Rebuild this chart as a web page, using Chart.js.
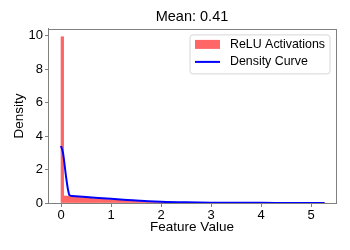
<!DOCTYPE html>
<html><head><meta charset="utf-8">
<script src="https://cdn.jsdelivr.net/npm/chart.js@4"></script>
<style>html,body{margin:0;padding:0;background:#fff}#wrap{width:350px;height:250px}</style>
</head><body><div id="wrap"><canvas id="c" width="350" height="250"></canvas></div>
<script>
const titleText = "Mean: 0.41";
const xLabel = "Feature Value";
const yLabel = "Density";
const histLabel = "ReLU Activations";
const curveLabel = "Density Curve";
const binWidth = 0.0527;
const histDensity = [
  9.95,
  0.42,0.41,0.39,0.38,0.36,0.35,0.33,0.32,0.30,0.29,0.28,0.26,0.25,0.24,0.23,0.22,0.21,0.20,0.19,
  0.18,0.17,0.16,0.15,0.15,0.14,0.13,0.12,0.12,0.11,0.10,0.10,0.09,0.08,0.08,0.07,0.07,0.06,0.06,
  0.05,0.05,0.05,0.04,0.04,0.04,0.03,0.03,0.03,0.03,0.02,0.02,0.02,0.02,0.02,0.02,0.01,0.01,0.01,
  0.01,0.01,0.01,0.01,0.01,0.01,0.01,0.01,0.01,0.01,
  0.004,0.004,0.004,0.004,0.004,0.004,0.004,0.004,0.004,0.004,0.004,0.004,
  0.002,0.002,0.002,0.002,0.002,0.002,0.002,0.002,0.002,0.002,0.002,0.002,0.002,0.002,0.002,0.002,0.002,0.002,0.002,
  0.004
];
const curveX = [0, 0.04, 0.1, 0.14, 0.17, 0.22, 0.5, 0.75, 1.0, 1.25, 1.5, 2.0, 2.5, 3.0, 3.5, 4.0, 4.5, 5.0, 5.27];
const curveY = [3.41, 3.0, 1.6, 0.8, 0.46, 0.42, 0.36, 0.30, 0.25, 0.20, 0.15, 0.08, 0.04, 0.02, 0.012, 0.008, 0.005, 0.003, 0.002];
const xTicks = [0, 1, 2, 3, 4, 5];
const yTicks = [0, 2, 4, 6, 8, 10];

const FONT = "'Liberation Sans', Arial, sans-serif";
const barColor = 'rgba(255,102,102,1)';
const lineColor = '#0000ff';
const frameColor = '#808080';

const histData = histDensity.map((v, i) => ({x: i * binWidth + binWidth / 2, y: v}));
const curveData = curveX.map((x, i) => ({x: x, y: curveY[i]}));

const framePlugin = {
  id: 'frame',
  afterDatasetsDraw(chart) {
    const {ctx, chartArea: a} = chart;
    ctx.save();
    ctx.strokeStyle = frameColor;
    ctx.lineWidth = 1;
    ctx.strokeRect(Math.round(a.left) + 0.5, Math.round(a.top) + 0.5, Math.round(a.right - a.left), Math.round(a.bottom - a.top));
    // legend
    const bx = a.right - 146, by = a.top + 6, bw = 140, bh = 39, r = 3;
    ctx.beginPath();
    ctx.moveTo(bx + r, by);
    ctx.arcTo(bx + bw, by, bx + bw, by + bh, r);
    ctx.arcTo(bx + bw, by + bh, bx, by + bh, r);
    ctx.arcTo(bx, by + bh, bx, by, r);
    ctx.arcTo(bx, by, bx + bw, by, r);
    ctx.closePath();
    ctx.fillStyle = 'rgba(255,255,255,0.8)';
    ctx.fill();
    ctx.strokeStyle = '#d6d6d6';
    ctx.stroke();
    ctx.fillStyle = barColor;
    ctx.fillRect(bx + 5, by + 5, 25, 9);
    ctx.strokeStyle = lineColor;
    ctx.lineWidth = 2;
    ctx.beginPath();
    ctx.moveTo(bx + 5, by + 27);
    ctx.lineTo(bx + 30, by + 27);
    ctx.stroke();
    ctx.fillStyle = '#000';
    ctx.font = '12.4px ' + FONT;
    ctx.textBaseline = 'middle';
    ctx.textAlign = 'left';
    ctx.fillText(histLabel, bx + 40, by + 10);
    ctx.fillText(curveLabel, bx + 40, by + 27);
    ctx.restore();
  }
};

new Chart(document.getElementById('c'), {
  type: 'bar',
  data: {
    datasets: [
      {type: 'line', label: curveLabel, data: curveData, borderColor: lineColor, borderWidth: 2, pointRadius: 0, cubicInterpolationMode: 'monotone', fill: false, order: 1},
      {type: 'bar', label: histLabel, data: histData, backgroundColor: barColor, borderWidth: 0, barPercentage: 1, categoryPercentage: 1, order: 2}
    ]
  },
  options: {
    responsive: false,
    animation: false,
    devicePixelRatio: 1,
    layout: {padding: {left: 0, right: 14, top: 0, bottom: 0}},
    plugins: {
      legend: {display: false},
      tooltip: {enabled: false},
      title: {display: true, text: titleText, fullSize: false, color: '#000', font: {family: FONT, size: 14.5, weight: 'normal'}, padding: {top: 8, bottom: 3.5}}
    },
    scales: {
      x: {
        type: 'linear', min: -0.26, max: 5.5, offset: false,
        afterBuildTicks: s => { s.ticks = xTicks.map(v => ({value: v})); },
        afterFit: s => { s.height = 47; },
        ticks: {color: '#000', font: {family: FONT, size: 13}, padding: 1, maxRotation: 0, callback: v => String(v)},
        grid: {display: true, drawOnChartArea: false, offset: false, tickLength: 4, color: frameColor},
        border: {display: true, color: frameColor},
        title: {display: true, text: xLabel, color: '#000', font: {family: FONT, size: 13.5}, padding: {top: 0, bottom: 15}}
      },
      y: {
        type: 'linear', min: 0, max: 10.42,
        afterBuildTicks: s => { s.ticks = yTicks.map(v => ({value: v})); },
        afterFit: s => { s.width = 48; },
        ticks: {color: '#000', font: {family: FONT, size: 13}, padding: 2, callback: v => String(v)},
        grid: {display: true, drawOnChartArea: false, tickLength: 3, color: frameColor},
        border: {display: true, color: frameColor},
        title: {display: true, text: yLabel, color: '#000', font: {family: FONT, size: 13.5}, padding: {top: 11, bottom: 0}}
      }
    }
  },
  plugins: [framePlugin]
});
</script>
</body></html>
